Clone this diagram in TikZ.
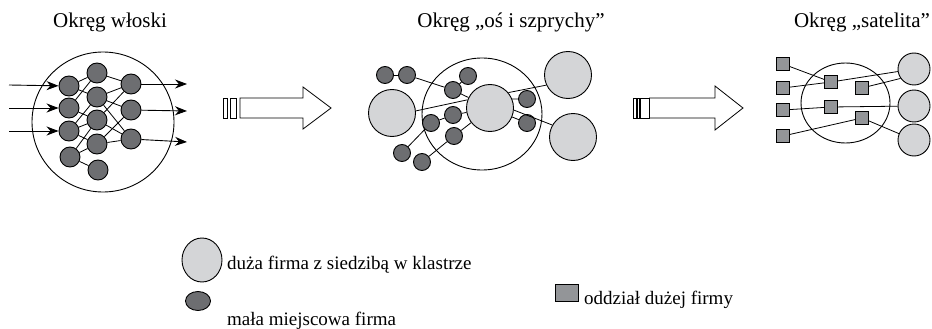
\documentclass[tikz,border=0pt]{standalone}
\usepackage{fontspec}
\setmainfont{Liberation Serif}
\usetikzlibrary{arrows.meta,shapes.geometric}
\definecolor{darkf}{HTML}{6D6E71}
\definecolor{lightf}{HTML}{D4D5D7}
\definecolor{sqf}{HTML}{939598}
\tikzset{
 smallc/.style={circle,draw=black,line width=0.9pt,fill=darkf,minimum size=20pt,inner sep=0pt},
 smalld/.style={smallc,minimum size=17pt},
 bigc/.style={circle,draw=black,line width=0.9pt,fill=lightf,minimum size=47pt,inner sep=0pt},
 bigd/.style={bigc,minimum size=32pt},
 sqn/.style={rectangle,draw=black,line width=0.9pt,fill=sqf,minimum size=13pt,inner sep=0pt},
 link/.style={line width=0.8pt},
 flow/.style={line width=0.9pt,-{Stealth[length=12pt,width=9pt]}},
 ring/.style={ellipse,draw=black,line width=0.9pt,inner sep=0pt},
 blockarrow/.style={draw=black,line width=0.8pt},
 title/.style={font=\fontsize{21}{25}\selectfont,anchor=base,inner sep=0pt},
 legendtext/.style={font=\fontsize{19}{23}\selectfont,anchor=base west,inner sep=0pt},
}
\begin{document}
\begin{tikzpicture}[x=1pt,y=-1pt]
\useasboundingbox (0,0) rectangle (932,329);

% titles
\node[title] (t1) at (110,28) {Okręg włoski};
\node[title] (t2) at (511,28) {Okręg „oś i szprychy”};
\node[title] (t3) at (862,28) {Okręg „satelita”};

% ---------- cluster 1 ----------
\node[ring,minimum width=142pt,minimum height=140pt] (r1) at (103,122) {};
\node[smallc] (A1) at (69,86) {};
\node[smallc] (A2) at (69,108) {};
\node[smallc] (A3) at (69,131) {};
\node[smallc] (A4) at (70,157) {};
\node[smallc] (B1) at (97,73) {};
\node[smallc] (B2) at (97,97) {};
\node[smallc] (B3) at (97,120) {};
\node[smallc] (B4) at (97,144) {};
\node[smallc] (B5) at (98,170) {};
\node[smallc] (C1) at (131,84) {};
\node[smallc] (C2) at (131,110) {};
\node[smallc] (C3) at (131,139) {};
\foreach \a/\b in {A1/B1,A1/B2,A2/B1,A2/B3,A3/B2,A3/B3,A3/B4,A4/B3,A4/B4,A4/B5,
                   B1/C1,B2/C1,B2/C2,B2/C3,B3/C1,B3/C3,B4/C2,B4/C3}
  \draw[link] (\a) -- (\b);
\coordinate (in1) at (9,85);
\coordinate (in2) at (9,108);
\coordinate (in3) at (9,131);
\coordinate (out1) at (187,84);
\coordinate (out2) at (187,111);
\coordinate (out3) at (187,142);
\draw[flow] (in1) -- (A1);
\draw[flow] (in2) -- (A2);
\draw[flow] (in3) -- (A3);
\draw[flow] (C1) -- (out1);
\draw[flow] (C2) -- (out2);
\draw[flow] (C3) -- (out3);

% ---------- block arrow 1 ----------
\draw[blockarrow] (223,98) rectangle (227,118);
\draw[blockarrow] (230,98) rectangle (236,118);
\draw[blockarrow] (240,98) -- (303,98) -- (303,87) -- (331,108) -- (303,129) -- (303,118) -- (240,118) -- cycle;

% ---------- cluster 2 ----------
\node[ring,minimum width=120pt,minimum height=112pt] (r2) at (482,114) {};
\node[bigc] (L1) at (392,113) {};
\node[bigc] (L2) at (490,108) {};
\node[bigc] (L3) at (568,75) {};
\node[bigc] (L4) at (573,137) {};
\node[smalld] (s1) at (385,75) {};
\node[smalld] (s2) at (407,75) {};
\node[smalld] (s3) at (468,76) {};
\node[smalld] (s4) at (453,90) {};
\node[smalld] (s5) at (527,99) {};
\node[smalld] (s6) at (453,115) {};
\node[smalld] (s7) at (431,123) {};
\node[smalld] (s8) at (527,123) {};
\node[smalld] (s9) at (454,136) {};
\node[smalld] (s10) at (402,153) {};
\node[smalld] (s11) at (422,162) {};
\foreach \a/\b in {s1/s2,s2/s4,s4/s3,s4/L2,s7/s6,s6/L2,s7/s10,s9/L2,s11/s9,L2/s8}
  \draw[link] (\a) -- (\b);
\draw[link] (L1.5) -- (L2.160);
\draw[link] (L2.22) -- (s5);
\draw[link] (L2.40) -- (L3.205);
\draw[link] (L2.-5) -- (L4.150);

% ---------- block arrow 2 ----------
\draw[blockarrow] (633,98) rectangle (649,118);
\draw[line width=1.1pt] (637,98) -- (637,118);
\draw[line width=1.1pt] (640,98) -- (640,118);
\draw[blockarrow] (649,98) -- (715,98) -- (715,86) -- (743,108) -- (715,130) -- (715,118) -- (649,118);

% ---------- cluster 3 ----------
\node[ring,minimum width=89pt,minimum height=80pt] (r3) at (845.5,103) {};
\node[sqn] (q1) at (783,64) {};
\node[sqn] (q2) at (783,88) {};
\node[sqn] (q3) at (783,110) {};
\node[sqn] (q4) at (783,136) {};
\node[sqn] (q5) at (831,82) {};
\node[sqn] (q6) at (862,88) {};
\node[sqn] (q7) at (831,107) {};
\node[sqn] (q8) at (862,118) {};
\node[bigd] (c1) at (914,69) {};
\node[bigd] (c2) at (914,106) {};
\node[bigd] (c3) at (914,140) {};
\foreach \a/\b in {q1/q5,q2/q5,q5/c1,q3/q7,q7/c2,q4/q8,q8/c3}
  \draw[link] (\a) -- (\b);
\draw[link] (q6) -- (c1.215);

% ---------- legend ----------
\node[ellipse,draw=black,line width=0.9pt,fill=lightf,minimum width=40pt,minimum height=44pt,inner sep=0pt] (lg1) at (202,260) {};
\node[legendtext] (lt1) at (227,269) {duża firma z siedzibą w klastrze};
\node[ellipse,draw=black,line width=0.9pt,fill=darkf,minimum width=25pt,minimum height=19pt,inner sep=0pt] (lg2) at (198,301) {};
\node[legendtext] (lt2) at (227,325) {mała miejscowa firma};
\node[rectangle,draw=black,line width=0.9pt,fill=sqf,minimum width=23pt,minimum height=17pt,inner sep=0pt] (lg3) at (567,293) {};
\node[legendtext] (lt3) at (584,304) {oddział dużej firmy};
\end{tikzpicture}
\end{document}
